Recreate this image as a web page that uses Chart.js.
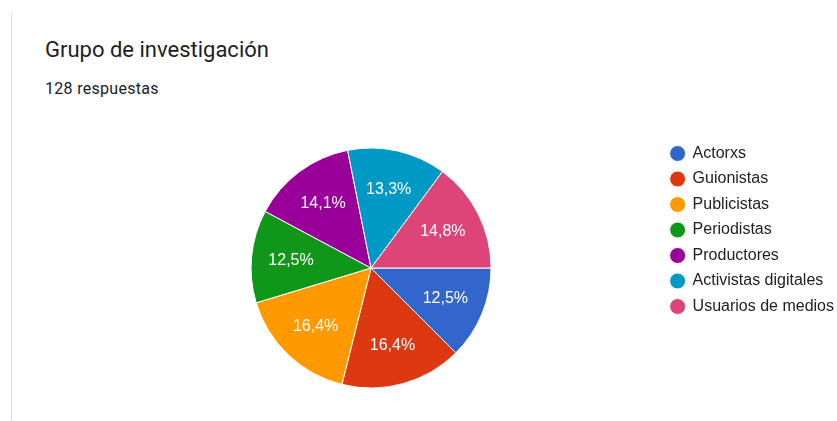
<!DOCTYPE html>
<html>
<head>
<meta charset="utf-8">
<script src="https://cdn.jsdelivr.net/npm/chart.js@4/dist/chart.umd.min.js"></script>
<style>
  html, body { margin: 0; padding: 0; background: #fff; }
  body { width: 837px; height: 421px; position: relative; overflow: hidden; }
  .edge { position: absolute; left: 11px; top: 13px; bottom: 0; width: 1px; background: #dadce0; }
  .title { position: absolute; left: 45px; top: 37px; font: 22px Roboto, sans-serif; color: #202124; }
  .sub { position: absolute; left: 45px; top: 79px; font: 16px Roboto, sans-serif; color: #202124; letter-spacing: 0.3px; }
  .box { position: absolute; left: 81px; top: 136px; width: 763px; height: 264px; }
</style>
</head>
<body>
<div class="edge"></div>
<div class="title">Grupo de investigación</div>
<div class="sub">128 respuestas</div>
<div class="box"><canvas id="grupo"></canvas></div>
<script>
// respuestas por grupo (128 en total)
const categories = ['Actorxs', 'Guionistas', 'Publicistas', 'Periodistas', 'Productores', 'Activistas digitales', 'Usuarios de medios'];
const counts = [16, 21, 21, 16, 18, 17, 19];
const colors = ['#3366cc', '#dc3912', '#ff9900', '#109618', '#990099', '#0099c6', '#dd4477'];

const total = counts.reduce((a, b) => a + b, 0);

// percentage labels inside the slices
const sliceLabels = {
    id: 'sliceLabels',
    afterDatasetsDraw(chart) {
        const ctx = chart.ctx;
        const meta = chart.getDatasetMeta(0);
        ctx.save();
        ctx.font = '16px "Liberation Sans", Arial, sans-serif';
        ctx.fillStyle = '#ffffff';
        ctx.textAlign = 'center';
        ctx.textBaseline = 'middle';
        meta.data.forEach((arc, i) => {
            const p = arc.getProps(['x', 'y', 'startAngle', 'endAngle', 'outerRadius']);
            const mid = (p.startAngle + p.endAngle) / 2;
            const r = p.outerRadius * 0.67;
            const pct = (counts[i] / total * 100).toFixed(1).replace('.', ',') + '%';
            ctx.fillText(pct, p.x + Math.cos(mid) * r, p.y + Math.sin(mid) * r);
        });
        ctx.restore();
    }
};

new Chart(document.getElementById('grupo'), {
    type: 'pie',
    data: {
        labels: categories,
        datasets: [{
            data: counts,
            backgroundColor: colors,
            borderColor: '#ffffff',
            borderWidth: 1,
            radius: 120
        }]
    },
    options: {
        responsive: true,
        maintainAspectRatio: false,
        animation: false,
        rotation: 90,
        plugins: {
            tooltip: { enabled: false },
            legend: {
                position: 'right',
                align: 'start',
                labels: {
                    usePointStyle: true,
                    pointStyle: 'circle',
                    boxWidth: 14,
                    boxHeight: 11.3,
                    padding: 9.5,
                    color: '#222',
                    font: { family: '"Liberation Sans", Arial, sans-serif', size: 16 }
                }
            }
        }
    },
    plugins: [sliceLabels]
});
</script>
</body>
</html>
